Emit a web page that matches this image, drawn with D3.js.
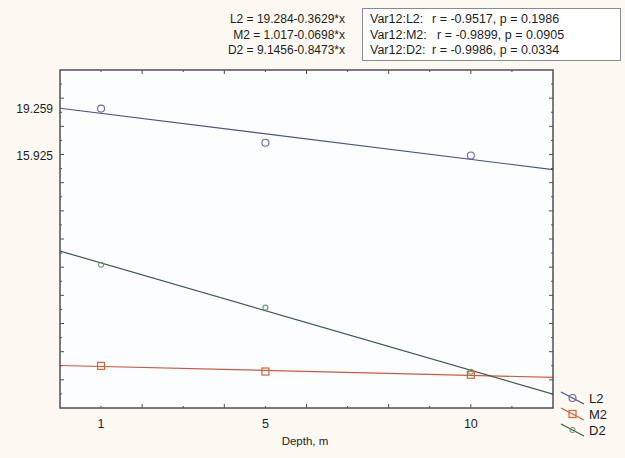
<!DOCTYPE html>
<html>
<head>
<meta charset="utf-8">
<script src="https://cdn.jsdelivr.net/npm/d3@7"></script>
<style>
body { margin: 0; background: #fbf9f1; }
text { font-family: "Liberation Sans", Arial, sans-serif; fill: #1e1e1e; white-space: pre; }
</style>
</head>
<body>
<svg id="chart" width="625" height="458"></svg>
<script>
"use strict";

// data
var depths = [1, 5, 10];
var seriesNames = ['L2', 'M2', 'D2'];
var valuesL2 = [19.259, 16.83, 15.925];
var valuesM2 = [0.99, 0.59, 0.36];
var valuesD2 = [8.176, 5.13, 0.575];
var intercepts = [19.284, 1.017, 9.1456];
var slopes = [-0.3629, -0.0698, -0.8473];
var equationLabels = ['L2 = 19.284-0.3629*x', 'M2 = 1.017-0.0698*x', 'D2 = 9.1456-0.8473*x'];
var statNames = ['Var12:L2:', 'Var12:M2:', 'Var12:D2:'];
var statValues = ['r = -0.9517, p = 0.1986', 'r = -0.9899, p = 0.0905', 'r = -0.9986, p = 0.0334'];
var xTickLabels = [1, 5, 10];
var yTickLabels = [19.259, 15.925];

var colors = { L2: '#4a5088', M2: '#d2563a', D2: '#3f5c48' };
var markerColors = { L2: '#6e6aa6', M2: '#d4643c', D2: '#6f9a72' };

var svg = d3.select('#chart');
var m = { left: 60, right: 553, top: 70, bottom: 408 };

var x = d3.scaleLinear().domain([0, 12]).range([m.left, m.right]);
var y = d3.scaleLinear().domain([-2, 22]).range([m.bottom, m.top]);

// plot area
svg.append('rect')
	.attr('x', m.left).attr('y', m.top)
	.attr('width', m.right - m.left).attr('height', m.bottom - m.top)
	.attr('fill', '#fcfdff');

var series = seriesNames.map(function(name, i) {
	return { name: name, values: [valuesL2, valuesM2, valuesD2][i], a: intercepts[i], b: slopes[i] };
});

// regression lines
svg.append('clipPath').attr('id', 'plotclip').append('rect')
	.attr('x', m.left).attr('y', m.top)
	.attr('width', m.right - m.left).attr('height', m.bottom - m.top);
var plot = svg.append('g').attr('clip-path', 'url(#plotclip)');

series.forEach(function(s) {
	var xs = x.domain();
	plot.append('line')
		.attr('x1', x(xs[0])).attr('y1', y(s.a + s.b * xs[0]))
		.attr('x2', x(xs[1])).attr('y2', y(s.a + s.b * xs[1]))
		.attr('stroke', colors[s.name]).attr('stroke-width', 1.2);
});

// markers
function drawMarker(g, name, cx, cy) {
	if (name == 'M2')
		g.append('rect').attr('x', cx - 3.5).attr('y', cy - 3.5).attr('width', 7).attr('height', 7)
			.attr('fill', 'none').attr('stroke', markerColors[name]).attr('stroke-width', 1.2);
	else
		g.append('circle').attr('cx', cx).attr('cy', cy).attr('r', name == 'L2' ? 3.5 : 2.5)
			.attr('fill', 'none').attr('stroke', markerColors[name]).attr('stroke-width', 1.1);
}
series.forEach(function(s) {
	s.values.forEach(function(v, i) {
		drawMarker(plot, s.name, x(depths[i]), y(v));
	});
});

// frame with inward ticks on all sides
var frame = svg.append('g').attr('stroke', '#505050');
var xt = d3.range(1, 12), yt = d3.range(-1, 22);
xt.forEach(function(t) {
	var len = t % 2 == 0 ? 4 : 2;
	frame.append('line').attr('x1', x(t)).attr('x2', x(t)).attr('y1', m.bottom).attr('y2', m.bottom - len);
	frame.append('line').attr('x1', x(t)).attr('x2', x(t)).attr('y1', m.top).attr('y2', m.top + len);
});
yt.forEach(function(t) {
	var len = t % 2 == 0 ? 4 : 2;
	frame.append('line').attr('y1', y(t)).attr('y2', y(t)).attr('x1', m.left).attr('x2', m.left + len);
	frame.append('line').attr('y1', y(t)).attr('y2', y(t)).attr('x1', m.right).attr('x2', m.right - len);
});
frame.append('rect')
	.attr('x', m.left).attr('y', m.top)
	.attr('width', m.right - m.left).attr('height', m.bottom - m.top)
	.attr('fill', 'none').attr('stroke-width', 1.5);

// tick labels
svg.append('g').selectAll('text')
	.data(xTickLabels).enter()
	.append('text')
		.attr('x', function(d) { return x(d); })
		.attr('y', 428)
		.attr('text-anchor', 'middle')
		.attr('font-size', 12.5)
		.text(function(d) { return d; });
svg.append('g').selectAll('text')
	.data(yTickLabels).enter()
	.append('text')
		.attr('x', 53)
		.attr('y', function(d) { return y(d) + 4.5; })
		.attr('text-anchor', 'end')
		.attr('font-size', 12)
		.text(function(d) { return d.toFixed(3); });
svg.append('text')
	.attr('x', 305).attr('y', 445)
	.attr('text-anchor', 'middle')
	.attr('font-size', 11.5)
	.text('Depth, m');

// equations
svg.append('g').selectAll('text')
	.data(equationLabels).enter()
	.append('text')
		.attr('x', 345)
		.attr('y', function(d, i) { return 23 + i * 15.5; })
		.attr('text-anchor', 'end')
		.attr('font-size', 12)
		.text(function(d) { return d; });

// correlation box
svg.append('rect')
	.attr('x', 362.5).attr('y', 8.5).attr('width', 258).attr('height', 52)
	.attr('fill', '#ffffff').attr('stroke', '#8a8a8a');
svg.append('g').selectAll('text')
	.data(statNames).enter()
	.append('text')
		.attr('x', 370)
		.attr('y', function(d, i) { return 23 + i * 15.5; })
		.attr('font-size', 12.5)
		.text(function(d) { return d; });
svg.append('g').selectAll('text')
	.data(statValues).enter()
	.append('text')
		.attr('x', function(d, i) { return i == 1 ? 437 : 432; })
		.attr('y', function(d, i) { return 23 + i * 15.5; })
		.attr('font-size', 12.5)
		.text(function(d) { return d; });

// legend
var legend = svg.append('g').attr('class', 'legend');
seriesNames.forEach(function(name, i) {
	var ly = 398 + i * 16;
	legend.append('line')
		.attr('x1', 561).attr('y1', ly - 6).attr('x2', 584).attr('y2', ly + 6)
		.attr('stroke', colors[name]).attr('stroke-width', 1.2);
	drawMarker(legend, name, 572.5, ly);
	legend.append('text')
		.attr('x', 589).attr('y', ly + 5)
		.attr('font-size', 13)
		.attr('fill', '#222')
		.text(name);
});
</script>
</body>
</html>
